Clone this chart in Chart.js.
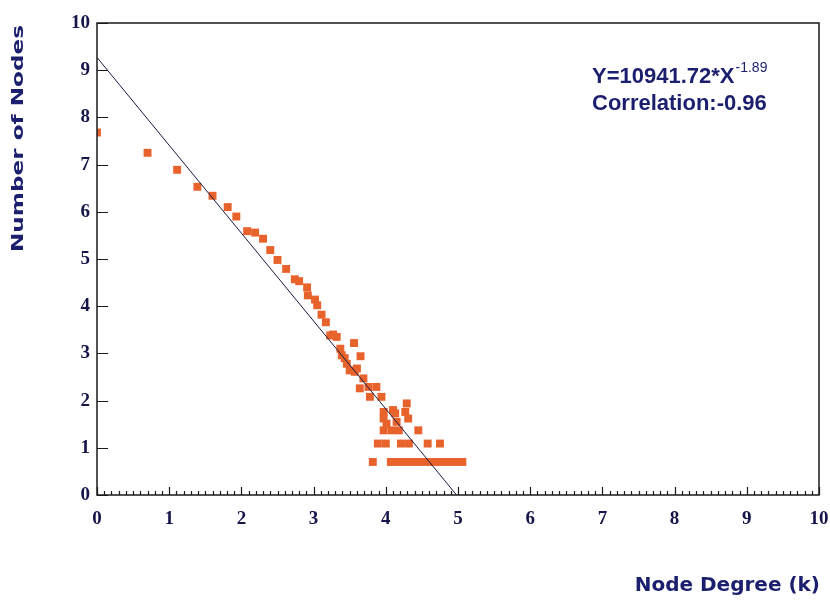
<!DOCTYPE html>
<html>
<head>
<meta charset="utf-8">
<script src="https://cdn.jsdelivr.net/npm/chart.js@4"></script>
<style>
  html, body { margin: 0; padding: 0; background: #ffffff; }
  #wrap { width: 830px; height: 611px; }
</style>
</head>
<body>
<div id="wrap"><canvas id="c" width="830" height="611"></canvas></div>
<script>
// ---- data ----
const degreeX = [
  0.00, 0.70, 1.11, 1.39, 1.60, 1.81, 1.93, 2.08, 2.19, 2.30,
  2.40, 2.50, 2.62, 2.74, 2.80, 2.91, 2.92, 3.02, 3.05, 3.11,
  3.17, 3.23, 3.32, 3.27, 3.56, 3.37, 3.39, 3.43, 3.65, 3.46,
  3.50, 3.60, 3.57, 3.69, 3.64, 3.76, 3.87, 3.78, 3.94, 3.97,
  4.10, 4.13, 4.29, 4.27, 4.31, 3.97, 4.01, 4.15, 3.97, 4.08,
  4.18, 4.45, 3.89, 4.00, 4.21, 4.32, 4.58, 4.75, 3.82, 4.07,
  4.17, 4.27, 4.37, 4.47, 4.57, 4.67, 4.77, 4.87, 4.97, 5.06
];
const nodesY = [
  7.68, 7.25, 6.89, 6.53, 6.34, 6.10, 5.90, 5.59, 5.56, 5.43,
  5.19, 4.98, 4.79, 4.57, 4.53, 4.40, 4.23, 4.14, 4.02, 3.82,
  3.66, 3.38, 3.35, 3.40, 3.22, 3.10, 2.96, 2.90, 2.94, 2.78,
  2.64, 2.68, 2.61, 2.47, 2.26, 2.29, 2.29, 2.08, 2.08, 1.76,
  1.80, 1.73, 1.94, 1.76, 1.62, 1.62, 1.51, 1.55, 1.37, 1.37,
  1.37, 1.37, 1.09, 1.09, 1.09, 1.09, 1.09, 1.09, 0.70, 0.70,
  0.70, 0.70, 0.70, 0.70, 0.70, 0.70, 0.70, 0.70, 0.70, 0.70
];
const fitX = [0, 4.98];
const fitY = [9.27, 0];
const axisTicks = [0, 1, 2, 3, 4, 5, 6, 7, 8, 9, 10];
const equationText = 'Y=10941.72*X';
const exponentText = '-1.89';
const correlationText = 'Correlation:-0.96';
const xTitle = 'Node Degree (k)';
const yTitle = 'Number of Nodes';

const navy = '#1b1f6e';
const tickColor = '#15154a';

const scatterData = degreeX.map((x, i) => ({ x: x, y: nodesY[i] }));
const fitData = fitX.map((x, i) => ({ x: x, y: fitY[i] }));

const decorPlugin = {
  id: 'decor',
  afterDatasetsDraw(chart) {
    const ctx = chart.ctx;
    const a = chart.chartArea;
    const xs = chart.scales.x, ys = chart.scales.y;
    ctx.save();
    // frame
    ctx.strokeStyle = '#1a1a1a';
    ctx.lineWidth = 1.5;
    ctx.strokeRect(a.left, a.top, a.right - a.left, a.bottom - a.top);
    // y major ticks (inward)
    ctx.lineWidth = 1.2;
    ctx.beginPath();
    axisTicks.forEach(v => {
      const py = Math.round(ys.getPixelForValue(v)) + 0.5;
      ctx.moveTo(a.left, py);
      ctx.lineTo(a.left + 11, py);
    });
    ctx.stroke();
    // x ticks: major + minor (inward)
    ctx.beginPath();
    for (let i = 0; i <= 100; i++) {
      const v = i / 10;
      const px = Math.round(xs.getPixelForValue(v)) + 0.5;
      const len = (i % 10 === 0) ? 8 : 4;
      ctx.moveTo(px, a.bottom);
      ctx.lineTo(px, a.bottom - len);
    }
    ctx.stroke();
    ctx.restore();
  },
  afterDraw(chart) {
    const ctx = chart.ctx;
    ctx.save();
    // annotation
    ctx.fillStyle = navy;
    ctx.textBaseline = 'alphabetic';
    ctx.textAlign = 'left';
    ctx.font = 'bold 22px "Liberation Sans", Arial, sans-serif';
    ctx.fillText(equationText, 592, 83);
    const w = ctx.measureText(equationText).width;
    ctx.font = '14px "Liberation Sans", Arial, sans-serif';
    ctx.fillText(exponentText, 592 + w + 1, 72);
    ctx.font = 'bold 22px "Liberation Sans", Arial, sans-serif';
    ctx.fillText(correlationText, 592, 110);
    // x title
    ctx.font = 'bold 20px "DejaVu Sans", Verdana, sans-serif';
    ctx.textAlign = 'right';
    ctx.textBaseline = 'middle';
    ctx.fillText(xTitle, 820, 586);
    // y title (rotated, stretched along its length)
    ctx.font = 'bold 16px "DejaVu Sans", Verdana, sans-serif';
    const tw = ctx.measureText(yTitle).width;
    const targetLen = 227;
    ctx.translate(19, 138.5);
    ctx.rotate(-Math.PI / 2);
    ctx.scale(targetLen / tw, 1);
    ctx.textAlign = 'center';
    ctx.fillText(yTitle, 0, 0);
    ctx.restore();
  }
};

new Chart(document.getElementById('c'), {
  type: 'scatter',
  data: {
    datasets: [
      {
        type: 'line',
        label: 'fit',
        data: fitData,
        borderColor: '#1a1a40',
        borderWidth: 1,
        pointRadius: 0,
        fill: false,
        tension: 0,
        clip: 0
      },
      {
        label: 'nodes',
        data: scatterData,
        pointStyle: 'rect',
        pointRadius: 5.6,
        pointHoverRadius: 5.6,
        backgroundColor: '#e8622c',
        borderColor: '#e8622c',
        borderWidth: 0,
        clip: 0
      }
    ]
  },
  options: {
    responsive: false,
    animation: false,
    devicePixelRatio: 1,
    layout: { padding: { left: 0, right: 11, top: 23, bottom: 0 } },
    plugins: {
      legend: { display: false },
      tooltip: { enabled: false },
      title: { display: false }
    },
    scales: {
      x: {
        type: 'linear',
        min: 0, max: 10,
        afterBuildTicks: s => { s.ticks = axisTicks.map(v => ({ value: v })); },
        ticks: {
          padding: 13,
          maxRotation: 0,
          color: tickColor,
          font: { family: '"Liberation Serif", "Times New Roman", serif', size: 19, weight: 'bold' }
        },
        grid: { display: false, drawTicks: false },
        border: { display: false },
        afterFit: s => { s.height = 116; s.paddingLeft = 0; s.paddingRight = 0; }
      },
      y: {
        type: 'linear',
        min: 0, max: 10,
        afterBuildTicks: s => { s.ticks = axisTicks.map(v => ({ value: v })); },
        ticks: {
          padding: 7,
          color: tickColor,
          font: { family: '"Liberation Serif", "Times New Roman", serif', size: 19, weight: 'bold' }
        },
        grid: { display: false, drawTicks: false },
        border: { display: false },
        afterFit: s => { s.width = 97; s.paddingTop = 0; s.paddingBottom = 0; }
      }
    }
  },
  plugins: [decorPlugin]
});
</script>
</body>
</html>
